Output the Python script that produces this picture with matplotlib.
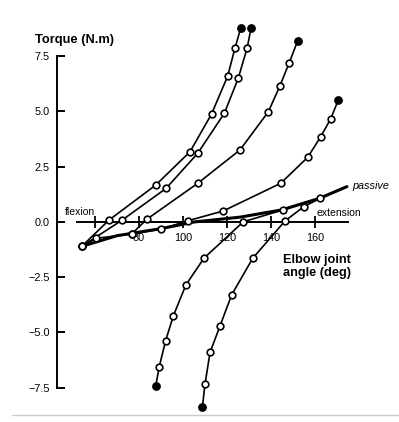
import matplotlib
matplotlib.use("Agg")
import matplotlib.pyplot as plt
from matplotlib.lines import Line2D

# ---- data (angle in deg, torque in N.m) ----
curve_a_deg = [54, 66.4, 87.6, 103.2, 113.0, 120.3, 123.6, 126.2]
curve_a_trq = [-1.1, 0.09, 1.67, 3.18, 4.89, 6.6, 7.86, 8.76]

curve_b_deg = [54, 72.4, 92.3, 106.7, 118.8, 125.1, 129.2, 130.9]
curve_b_trq = [-1.1, 0.09, 1.52, 3.11, 4.92, 6.5, 7.89, 8.76]

curve_c_deg = [76.7, 83.5, 106.7, 125.9, 138.8, 144.1, 148.3, 152.1]
curve_c_trq = [-0.54, 0.12, 1.75, 3.26, 4.99, 6.17, 7.21, 8.19]

curve_d_deg = [54, 60.5, 76.7, 89.9, 102.4, 118.3, 144.4, 156.7, 162.6, 167.1, 170.6]
curve_d_trq = [-1.1, -0.74, -0.54, -0.33, 0.06, 0.5, 1.75, 2.93, 3.86, 4.66, 5.52]

curve_e_deg = [145.3, 127.4, 109.5, 101.3, 95.6, 92.1, 89.2, 87.6]
curve_e_trq = [0.54, 0.01, -1.64, -2.85, -4.25, -5.37, -6.55, -7.42]

curve_f_deg = [162.3, 155.0, 146.4, 131.7, 122.1, 116.8, 112.3, 110.0, 108.8]
curve_f_trq = [1.07, 0.70, 0.05, -1.64, -3.3, -4.71, -5.9, -7.33, -8.39]

passive_deg = [54, 70, 90, 105, 126, 145, 162, 174.5]
passive_trq = [-1.1, -0.62, -0.3, 0.0, 0.22, 0.55, 1.07, 1.6]

y_ticks = [-7.5, -5.0, -2.5, 0.0, 2.5, 5.0, 7.5]
y_ticklabels = ["\u22127.5", "\u22125.0", "\u22122.5", "0.0", "2.5", "5.0", "7.5"]
x_ticks = [60, 80, 100, 120, 140, 160]
x_ticklabels = ["", "80", "100", "120", "140", "160"]

plt.rcParams['font.family'] = ['Liberation Sans', 'DejaVu Sans']

fig = plt.figure(figsize=(3.99, 4.22), dpi=100)
ax = fig.add_axes([0, 0, 1, 1])
ax.set_facecolor('none')
ax.set_xlim(16.82, 198.18)
ax.set_ylim(-9.05, 10.045)

lw = 1.2
ms = 4.8
for xs, ys in [(curve_a_deg, curve_a_trq), (curve_b_deg, curve_b_trq),
               (curve_c_deg, curve_c_trq), (curve_d_deg, curve_d_trq),
               (curve_e_deg, curve_e_trq), (curve_f_deg, curve_f_trq)]:
    ax.plot(xs, ys, color='black', lw=lw, zorder=3)
    ax.plot(xs[:-1], ys[:-1], 'o', color='black', mfc='white', mec='black',
            ms=ms, mew=1.2, zorder=4)
    ax.plot(xs[-1:], ys[-1:], 'o', color='black', ms=5.3, zorder=4)

ax.plot(passive_deg, passive_trq, color='black', lw=2.2, zorder=3,
        solid_capstyle='round')

# axes styling
for s in ['top', 'right']:
    ax.spines[s].set_visible(False)
ax.spines['left'].set_position(('data', 42.7))
ax.spines['left'].set_bounds(-7.5, 7.5)
ax.spines['left'].set_linewidth(1.4)
ax.spines['bottom'].set_position(('data', 0))
ax.spines['bottom'].set_bounds(52, 175)
ax.spines['bottom'].set_linewidth(1.4)

ax.set_yticks(y_ticks)
ax.set_yticklabels(y_ticklabels)
ax.set_xticks(x_ticks)
ax.set_xticklabels(x_ticklabels)
ax.tick_params(axis='y', direction='in', length=6, width=1.4, pad=5,
               labelsize=7.8)
ax.tick_params(axis='x', direction='inout', length=9, width=1.3, pad=3.5,
               labelsize=7.8)

ax.text(32.7, 8.24, "Torque (N.m)", fontsize=9.3, fontweight='bold',
        ha='left', va='center')
ax.text(46.4, 0.47, "flexion", fontsize=7.5, ha='left', va='center')
ax.text(160.9, 0.42, "extension", fontsize=7.5, ha='left', va='center')
ax.text(176.8, 1.63, "passive", fontsize=7.8, style='italic',
        ha='left', va='center')
ax.text(160.8, -2.0, "Elbow joint\nangle (deg)", fontsize=9.2,
        fontweight='bold', ha='center', va='center', linespacing=1.1)

fig.add_artist(Line2D([12 / 399, 1.0], [1 - 415 / 422, 1 - 415 / 422],
                      color='#cccccc', lw=1.0))

fig.savefig("out.png", dpi=100)
